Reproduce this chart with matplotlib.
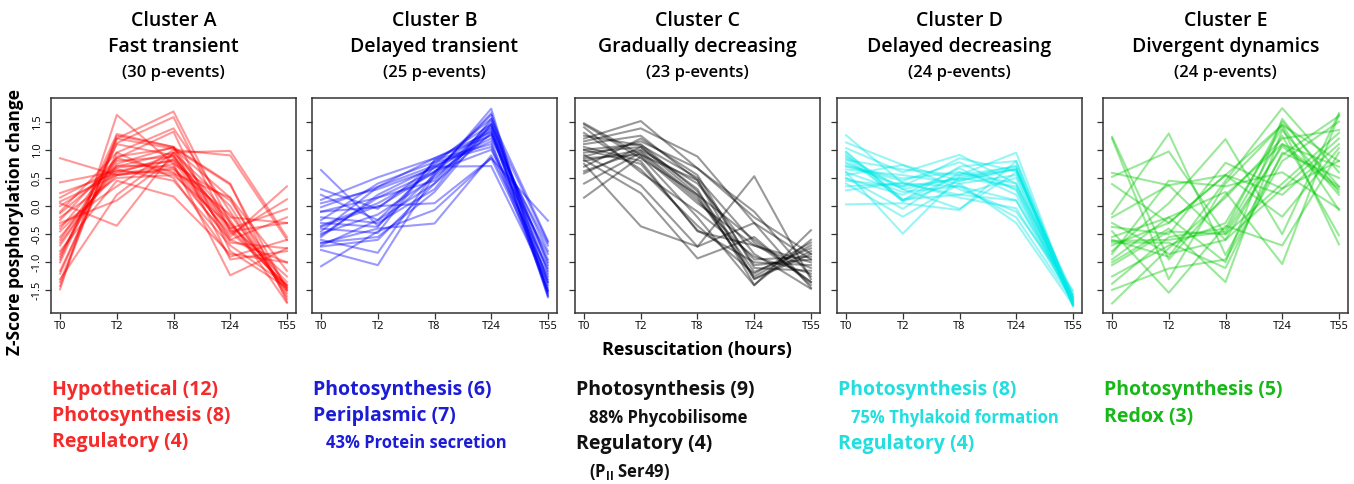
import numpy as np
import matplotlib
matplotlib.use("Agg")
import matplotlib.pyplot as plt

plt.rcParams['font.family'] = ['Open Sans', 'DejaVu Sans']

timepoints = ["T0", "T2", "T8", "T24", "T55"]

cluster_a = [
    [-1.48, 1.62, 0.75, 0.10, -1.45],
    [-1.42, 1.25, 1.05, 0.40, -1.70],
    [-1.35, 1.20, 1.68, -0.30, -1.50],
    [-1.20, 1.12, 1.58, -0.45, -1.40],
    [-1.15, 0.95, 1.38, -0.10, -1.55],
    [-0.95, 1.28, 1.05, -0.40, -1.42],
    [-0.90, 1.10, 0.90, -0.60, -1.00],
    [-0.85, 0.85, 1.32, -0.80, -1.45],
    [-0.70, 0.75, 1.05, -0.95, -0.80],
    [-0.65, 0.70, 0.95, 0.00, -1.60],
    [-0.55, 0.62, 0.82, -0.25, -1.72],
    [-0.45, 0.55, 0.75, -1.23, -0.75],
    [-0.40, 0.80, 0.88, -0.30, -1.35],
    [-0.35, 0.35, 1.00, 0.90, -0.60],
    [-0.30, 0.10, 0.85, -0.45, -0.30],
    [-0.25, 0.85, 0.60, -0.60, -0.20],
    [-0.20, 0.50, 0.55, -0.35, -1.25],
    [-0.13, 0.72, 0.70, -0.50, 0.12],
    [-0.10, 0.95, 0.50, -0.90, -0.60],
    [0.00, 0.65, 0.45, -0.70, -1.40],
    [0.05, -0.35, 0.95, 0.98, -0.55],
    [0.08, 0.55, 0.65, -0.15, -1.50],
    [0.15, 0.68, 0.80, -0.55, 0.35],
    [0.23, 0.58, 0.90, -0.40, -0.05],
    [0.42, 0.62, 0.58, 0.15, -1.65],
    [0.85, 0.55, 0.68, -0.65, -0.75],
    [-1.30, 0.20, 0.95, -0.20, -0.30],
    [-0.80, 0.45, 0.17, -0.85, -1.00],
    [-1.00, 1.20, 1.02, 0.15, -1.15],
    [-0.60, 0.88, 1.03, 0.38, -1.48],
]

cluster_b = [
    [0.64, -0.35, 0.55, 1.73, -1.60],
    [0.30, -0.05, 0.75, 1.55, -0.62],
    [0.11, 0.51, 0.85, 1.25, -1.15],
    [0.05, 0.30, 0.67, 1.40, -1.00],
    [-0.02, 0.34, 0.85, 1.32, -1.50],
    [-0.10, -0.02, 0.60, 1.62, -1.55],
    [-0.10, 0.15, 0.45, 1.50, -1.20],
    [-0.30, -0.37, 0.80, 1.45, -1.62],
    [-0.37, 0.00, 0.05, 0.85, -0.26],
    [-0.40, -0.48, 0.82, 1.10, -1.30],
    [-0.45, 0.34, 0.72, 1.20, -0.70],
    [-0.49, -0.15, 0.50, 1.35, -1.58],
    [-0.52, 0.15, 0.62, 1.00, -0.85],
    [-0.60, -0.83, 0.60, 1.38, -1.45],
    [-0.66, -0.40, -0.31, 0.90, -1.10],
    [-0.70, -0.25, 0.70, 0.71, -1.35],
    [-0.72, -0.60, 0.40, 1.45, -0.65],
    [-0.78, -1.05, 0.55, 1.28, -0.95],
    [-1.07, -0.45, -0.07, 0.85, -1.25],
    [-0.20, -0.30, 0.30, 1.55, -1.40],
    [0.20, -0.25, 0.40, 1.30, -0.80],
    [-0.55, 0.20, 0.70, 1.15, -1.50],
    [-0.25, 0.40, 0.78, 1.05, -1.52],
    [-0.65, -0.55, 0.25, 1.45, -1.05],
    [-0.35, 0.05, 0.60, 1.65, -1.35],
]

cluster_c = [
    [1.47, 0.91, 0.46, -1.30, -0.85],
    [1.45, 0.85, 0.20, -0.60, -1.35],
    [1.40, 0.60, -0.10, -0.90, -1.20],
    [1.20, 1.51, 0.67, -0.20, -0.85],
    [1.15, 1.38, 0.88, -0.30, -1.45],
    [1.10, 1.25, 0.46, -1.05, -0.95],
    [1.05, 0.80, -0.45, -0.70, -1.00],
    [1.00, 1.10, 0.26, -1.17, -0.75],
    [0.95, 1.05, 0.30, -1.40, -0.60],
    [0.91, 0.37, -0.72, 0.53, -1.30],
    [0.88, 1.15, 0.67, -0.10, -1.25],
    [0.85, 0.91, 0.05, -0.70, -1.10],
    [0.82, 0.23, -0.93, -0.55, -1.40],
    [0.80, 1.00, 0.40, -0.85, -1.47],
    [0.75, -0.36, -0.72, -0.30, -0.95],
    [0.58, 1.05, 0.20, -1.29, -0.80],
    [0.40, 0.95, 0.10, -0.95, -0.90],
    [0.15, 0.88, -0.20, -1.41, -0.43],
    [1.30, 0.65, -0.35, -1.20, -0.65],
    [0.70, 1.20, 0.55, -1.10, -1.15],
    [1.00, 0.75, -0.43, -1.00, -1.05],
    [0.62, 0.98, 0.15, -1.25, -0.70],
    [1.25, 1.08, 0.50, -0.65, -1.35],
]

cluster_d = [
    [1.26, 0.40, 0.20, 0.10, -1.70],
    [1.13, 0.73, 0.45, 0.65, -1.75],
    [1.03, 0.60, 0.91, 0.40, -1.60],
    [0.97, 0.10, 0.70, 0.80, -1.70],
    [0.91, 0.08, 0.45, 0.67, -1.78],
    [0.88, 0.30, 0.50, 0.35, -1.65],
    [0.82, 0.65, 0.55, 0.95, -1.72],
    [0.78, 0.30, -0.05, 0.60, -1.55],
    [0.71, 0.49, 0.60, 0.31, -1.68],
    [0.65, 0.55, 0.40, -0.30, -1.75],
    [0.60, -0.49, 0.52, 0.65, -1.62],
    [0.55, 0.73, 0.30, -0.10, -1.50],
    [0.49, 0.20, 0.67, 0.20, -1.66],
    [0.45, 0.35, 0.48, 0.72, -1.76],
    [0.40, -0.19, 0.40, 0.55, -1.72],
    [0.35, 0.40, 0.35, 0.10, -1.58],
    [0.28, 0.42, 0.15, -0.04, -1.64],
    [0.03, 0.05, -0.07, 0.80, -1.70],
    [0.70, 0.45, 0.78, 0.28, -1.74],
    [0.85, 0.10, 0.55, 0.70, -1.77],
    [0.50, -0.05, 0.60, 0.40, -1.66],
    [0.60, 0.25, 0.35, -0.20, -1.69],
    [0.95, 0.12, 0.20, 0.50, -1.73],
    [0.75, 0.35, 0.85, 0.62, -1.61],
]

cluster_e = [
    [1.23, -0.95, 0.20, 1.10, 0.34],
    [1.20, -1.30, 0.40, 1.44, 0.80],
    [0.59, 0.37, -0.60, 0.31, 1.20],
    [0.52, 0.97, -0.50, 1.06, 0.30],
    [0.39, -0.30, 0.55, 1.44, -0.07],
    [-0.14, 1.29, -0.87, 0.91, 1.60],
    [-0.20, 0.37, 0.55, -0.19, 1.03],
    [-0.37, -0.50, 0.77, 0.31, 0.80],
    [-0.60, -0.90, 0.45, 1.74, 0.60],
    [-0.62, -0.60, -0.45, 1.25, -0.52],
    [-0.80, 0.05, 1.19, -0.50, 1.65],
    [-1.00, -0.40, -1.35, 1.35, 0.20],
    [-1.25, -0.70, -0.30, 1.40, -0.68],
    [-1.38, -0.55, -0.40, 1.50, 0.35],
    [-1.49, -1.11, -0.95, 0.80, 1.50],
    [-1.73, -0.75, 0.15, 1.20, 1.35],
    [-0.45, -1.54, -0.35, -0.70, 0.95],
    [-0.55, -0.20, 0.25, -1.03, 1.62],
    [-0.85, 0.45, 0.35, 0.60, -0.05],
    [-0.65, -0.65, -1.10, 0.95, 0.50],
    [-0.30, -0.85, -0.60, 1.10, 0.70],
    [-0.70, -0.30, 0.55, 0.20, 1.10],
    [-1.05, -0.45, -0.50, 0.40, 1.30],
    [-0.95, -0.20, -1.00, 1.55, 0.25],
]

titles = ["Cluster A", "Cluster B", "Cluster C", "Cluster D", "Cluster E"]
subtitles = ["Fast transient", "Delayed transient", "Gradually decreasing",
             "Delayed decreasing", "Divergent dynamics"]
n_events = [30, 25, 23, 24, 24]

line_colors = ["#ff0000", "#0000ff", "#000000", "#00e8e8", "#00c800"]
text_colors = ["#f52a2a", "#1c1cd6", "#111111", "#22dede", "#18b818"]

# (text, indented?) rows below each panel
notes = [
    [("Hypothetical (12)", 0), ("Photosynthesis (8)", 0), ("Regulatory (4)", 0)],
    [("Photosynthesis (6)", 0), ("Periplasmic (7)", 0), ("43% Protein secretion", 1)],
    [("Photosynthesis (9)", 0), ("88% Phycobilisome", 1), ("Regulatory (4)", 0),
     ("(P$_{\\mathregular{II}}$ Ser49)", 1)],
    [("Photosynthesis (8)", 0), ("75% Thylakoid formation", 1), ("Regulatory (4)", 0)],
    [("Photosynthesis (5)", 0), ("Redox (3)", 0)],
]

data = [cluster_a, cluster_b, cluster_c, cluster_d, cluster_e]

W, H = 1354, 484
fig = plt.figure(figsize=(W / 100, H / 100), dpi=100)

lefts = [51, 312, 575, 837, 1103]
ax_w, ax_top, ax_bot = 245, 98, 313

x = np.arange(len(timepoints))
for i, left in enumerate(lefts):
    ax = fig.add_axes([left / W, 1 - ax_bot / H, ax_w / W, (ax_bot - ax_top) / H])
    for row in data[i]:
        ax.plot(x, row, color=line_colors[i], alpha=0.4, lw=1.5)
    ax.set_xlim(-0.16, 4.16)
    ax.set_ylim(-1.9, 1.92)
    ax.set_xticks(x)
    ax.set_xticklabels(timepoints, fontsize=8)
    ax.set_yticks(np.arange(-1.5, 1.51, 0.5))
    if i == 0:
        ax.set_yticklabels([f"{v:.1f}" for v in np.arange(-1.5, 1.51, 0.5)],
                           rotation=90, va="center", fontsize=8)
    else:
        ax.set_yticklabels([])
    ax.tick_params(length=4, width=0.9, color="#333333", pad=2)
    for s in ax.spines.values():
        s.set_color("#333333")
        s.set_linewidth(1.1)

    cx = (left + ax_w / 2) / W
    fig.text(cx, 1 - 21 / H, titles[i], ha="center", va="center",
             fontsize=14, fontweight="semibold")
    fig.text(cx, 1 - 47 / H, subtitles[i], ha="center", va="center",
             fontsize=14, fontweight="semibold")
    fig.text(cx, 1 - 73 / H, f"({n_events[i]} p-events)", ha="center",
             va="center", fontsize=12, fontweight="semibold")

    y = 390
    for txt, indent in notes[i]:
        if indent:
            fig.text((left + 14) / W, 1 - (y + 1) / H, txt, ha="left", va="center",
                     fontsize=12, fontweight="bold", color=text_colors[i])
        else:
            fig.text((left + 1) / W, 1 - y / H, txt, ha="left", va="center",
                     fontsize=14, fontweight="bold", color=text_colors[i])
        y += 27 if i >= 2 else 26

fig.text(15 / W, 1 - 222 / H, "Z-Score posphorylation change", rotation=90,
         ha="center", va="center", fontsize=12.5, fontweight="bold")
fig.text(697 / W, 1 - 350 / H, "Resuscitation (hours)", ha="center", va="center",
         fontsize=13, fontweight="bold")

fig.savefig("out.png", dpi=100)
